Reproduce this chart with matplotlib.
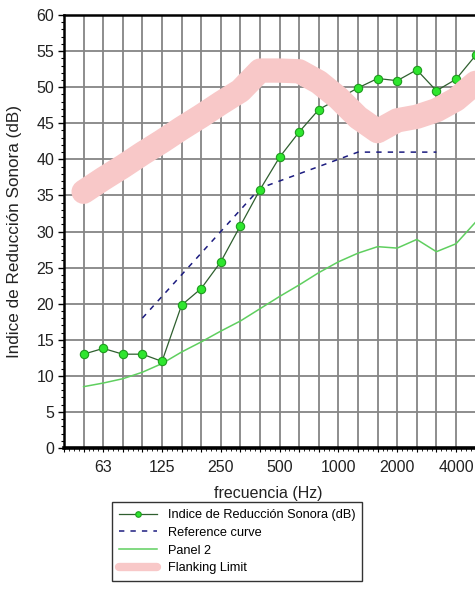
import matplotlib
matplotlib.use("Agg")
import matplotlib.pyplot as plt
from matplotlib.ticker import MultipleLocator

plt.rcParams["font.family"] = ["Liberation Sans", "DejaVu Sans"]

# third-octave bands, 50 Hz .. 5000 Hz
bands = ["50", "63", "80", "100", "125", "160", "200", "250", "315", "400", "500",
         "630", "800", "1000", "1250", "1600", "2000", "2500", "3150", "4000", "5000"]
octave_labels = ["63", "125", "250", "500", "1000", "2000", "4000"]

reduction_index = [13.0, 13.8, 13.0, 13.0, 12.0, 19.8, 22.1, 25.8, 30.8, 35.8, 40.3,
                   43.8, 46.9, 48.4, 49.9, 51.2, 50.9, 52.4, 49.5, 51.1, 54.4]
reference_bands = ["100", "125", "160", "200", "250", "315", "400", "500",
                   "630", "800", "1000", "1250", "1600", "2000", "2500", "3150"]
reference_curve = [18, 21, 24, 27, 30, 33, 36, 37, 38, 39, 40, 41, 41, 41, 41, 41]
panel_2 = [8.5, 9.0, 9.6, 10.5, 11.7, 13.3, 14.7, 16.2, 17.6, 19.3, 21.0,
           22.6, 24.3, 25.8, 27.0, 27.9, 27.7, 28.9, 27.2, 28.3, 31.3]
flanking_limit = [35.5, 37.3, 39.0, 40.8, 42.5, 44.3, 46.0, 47.8, 49.5, 52.3, 52.3,
                  52.2, 50.7, 48.5, 45.8, 43.9, 45.4, 45.9, 46.8, 48.3, 50.6]

x = list(range(len(bands)))
x_ref = [bands.index(b) for b in reference_bands]

fig = plt.figure(figsize=(4.75, 5.91), dpi=100)
ax = fig.add_axes([64 / 475, 143 / 591, 431.2 / 475, 433 / 591])

ax.plot(x, panel_2, color="#5fcf5f", linewidth=1.1, label="Panel 2", zorder=3)
ax.plot(x_ref, reference_curve, color="#1c1c80", linewidth=1.1,
        linestyle=(0, (3.5, 4)), label="Reference curve", zorder=4)
ax.plot(x, reduction_index, color="#2f5f2f", linewidth=0.9, marker="o",
        markersize=6, markerfacecolor="#2ee62e", markeredgecolor="#1f9a1f",
        markeredgewidth=0.8, label="Indice de Reducción Sonora (dB)", zorder=5)
ax.plot(x, flanking_limit, color="#f8c8c8", linewidth=17.5,
        solid_capstyle="round", solid_joinstyle="round",
        label="Flanking Limit", zorder=6)

ax.set_xlim(-1, 21)
ax.set_ylim(0, 60)
ax.yaxis.set_major_locator(MultipleLocator(5))
ax.yaxis.set_minor_locator(MultipleLocator(1))
ax.set_xticks(range(-1, 22))
ax.set_xticklabels([b if b in octave_labels else "" for b in ["40"] + bands + ["6300"]])
ax.xaxis.set_minor_locator(MultipleLocator(0.25))

ax.grid(True, which="major", color="#858585", linewidth=1.3, zorder=0)
ax.set_axisbelow(True)
for side in ("left", "top"):
    ax.spines[side].set_linewidth(1.8)
ax.spines["bottom"].set_linewidth(2.6)
ax.spines["right"].set_visible(False)

ax.tick_params(axis="y", which="major", length=4, width=1, pad=3, labelsize=11.5, labelcolor="#222222")
ax.tick_params(axis="y", which="minor", length=2.5, width=0.8)
ax.tick_params(axis="x", which="major", length=3, width=0.8, pad=6, labelsize=11.5, labelcolor="#222222")
ax.tick_params(axis="x", which="minor", length=2, width=0.6)

ax.set_ylabel("Indice de Reducción Sonora (dB)", fontsize=12.3, color="#222222")
ax.set_xlabel("frecuencia (Hz)", fontsize=11.5, color="#222222")
ax.yaxis.set_label_coords(-0.098, 0.5)
ax.xaxis.set_label_coords(0.473, -0.088)

handles, labels = ax.get_legend_handles_labels()
order = [labels.index(n) for n in ["Indice de Reducción Sonora (dB)", "Reference curve",
                                    "Panel 2", "Flanking Limit"]]
leg = fig.legend([handles[i] for i in order], [labels[i] for i in order],
                 loc="upper left", bbox_to_anchor=(112 / 475, 1 - 502 / 591),
                 frameon=True, fancybox=False, edgecolor="black", fontsize=9.2,
                 handlelength=3.0, handletextpad=0.8, labelspacing=0.45,
                 borderpad=0.55, borderaxespad=0, numpoints=1)
leg.get_frame().set_linewidth(1.0)
for line in leg.get_lines():
    if line.get_label() == "Flanking Limit":
        line.set_linewidth(6)
    if line.get_marker() == "o":
        line.set_markersize(4)

fig.savefig("out.png", dpi=100)
